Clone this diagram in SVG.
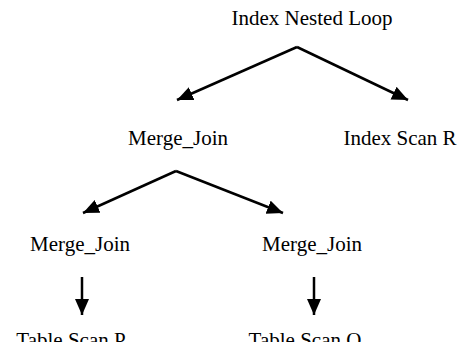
<svg xmlns="http://www.w3.org/2000/svg" width="461" height="350" viewBox="0 0 461 350">
<style>
text{font-family:"Liberation Serif","Times New Roman",serif;font-size:21px;fill:#000;text-anchor:middle}
.c line{stroke:#000;stroke-width:2.5;marker-end:url(#ah)}
</style>
<defs>
<marker id="ah" markerUnits="userSpaceOnUse" markerWidth="17" markerHeight="15" refX="16" refY="7" orient="auto">
<path d="M0,0 L16,7 L0,14 z" fill="#000"/>
</marker>
<clipPath id="bot"><rect x="0" y="0" width="461" height="342"/></clipPath>
</defs>
<rect width="461" height="350" fill="#fff"/>
<g class="c" id="connectors">
<line x1="297" y1="47" x2="177" y2="100"/>
<line x1="297" y1="47" x2="408" y2="100"/>
<line x1="176" y1="171" x2="83" y2="213"/>
<line x1="176" y1="171" x2="283" y2="213"/>
<line x1="82" y1="277" x2="82" y2="315"/>
<line x1="314" y1="277" x2="314" y2="315"/>
</g>
<g id="n1"><text x="312" y="25">Index Nested Loop</text></g>
<g id="n2"><text x="178" y="145">Merge_Join</text></g>
<g id="n3"><text x="400" y="145">Index Scan R</text></g>
<g id="n4"><text x="80" y="251">Merge_Join</text></g>
<g id="n5"><text x="312" y="251">Merge_Join</text></g>
<g id="n6" clip-path="url(#bot)"><text x="71" y="347">Table Scan P</text></g>
<g id="n7" clip-path="url(#bot)"><text x="305" y="347">Table Scan Q</text></g>
</svg>
